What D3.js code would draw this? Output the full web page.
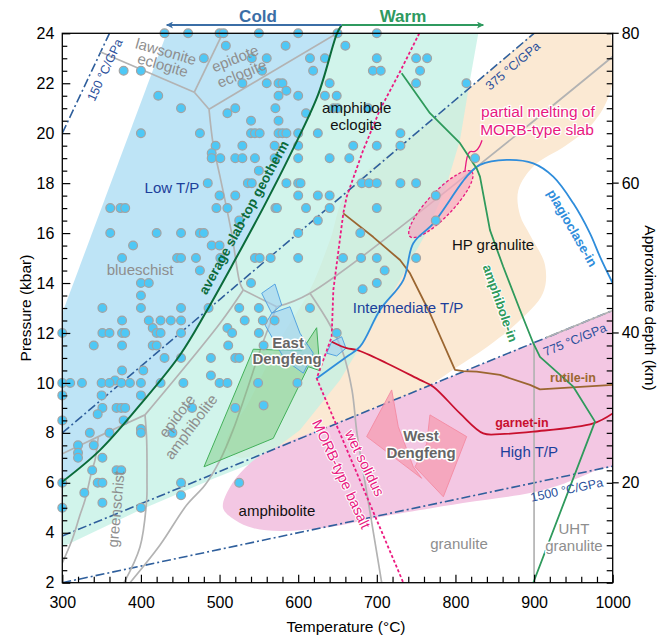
<!DOCTYPE html>
<html>
<head>
<meta charset="utf-8">
<script src="https://cdn.jsdelivr.net/npm/d3@7"></script>
<style>
  body { margin: 0; background: #fff; }
  svg { display: block; font-family: "Liberation Sans", Arial, sans-serif; }
</style>
</head>
<body>
<svg id="chart" width="672" height="639"></svg>
<script>
// ---- data (T in °C, P in kbar) ----
const tempTicks = [300, 400, 500, 600, 700, 800, 900, 1000];
const pressTicks = [2, 4, 6, 8, 10, 12, 14, 16, 18, 20, 22, 24];
const depthTicks = [20, 40, 60, 80];
const gradients = [150, 375, 775, 1500]; // °C/GPa

const geotherm = [[300, 6.04], [347.9, 7.31], [398.8, 9.12], [449.7, 11.12], [482.8, 12.84],
  [519.6, 14.92], [555.3, 17.0], [589.6, 19.12], [625.2, 21.53], [649.4, 24]];
const geothermTop = [655.3, 24.33];

const lowTPEdge = [[432.8, 24], [300, 12.8], [300, 6.04]];
const mintEdge = [[649.4, 24], [829.1, 24], [818.5, 22.13], [805.8, 19.73], [786.7, 17.72], [761.3, 15.92],
  [729.5, 14.12], [691.3, 12.12], [653.2, 10.12], [602.3, 8.11], [551.5, 6.91], [494.2, 6.19],
  [458.6, 5.71], [398.8, 4.91], [300, 3.43]];
const peachArea = [[661.7, 17.65], [754.9, 20.13], [850, 22.67], [880, 23.47], [922.5, 24.6], [985, 24.6],
  [1002, 23.0], [994, 21.4], [972, 20.3], [940, 19.5], [900, 18.7], [880, 17.72], [882.1, 16.72], [894.8, 15.92],
  [913.9, 14.72], [911.4, 13.6], [878.3, 12.4], [840.2, 11.44], [802, 10.64], [767.6, 9.92],
  [700, 9.03], [557.8, 7.2], [521.8, 7.03], [508.2, 7.51], [538.7, 9.32], [576.9, 11.72],
  [615, 13.72], [640.5, 15.72]];
const pinkArea = [[504.4, 4.99], [513.3, 5.83], [532.4, 6.59], [557.8, 7.2], [700, 9.03], [850, 10.97],
  [960, 12.39], [1000, 12.9], [1012, 13.06], [1012, 6.9], [980, 6.51], [932.9, 5.91], [894.8, 5.59],
  [809.6, 5.19], [704, 4.63], [640.5, 4.23], [576.9, 4.07], [542.5, 4.19], [519.6, 4.51]];

const faciesLines = [
  [[348.7, 23.25], [467.9, 21.64]],
  [[467.9, 21.64], [504, 24]],
  [[467.9, 21.64], [486.6, 20.96]],
  [[486.6, 20.96], [649.4, 24]],
  [[486.6, 20.96], [492, 19.53], [500.6, 18.26], [515.4, 15.99], [526, 13.99], [530.2, 13.72]],
  [[530.2, 13.72], [500.6, 12.39], [405.2, 8.72]],
  [[405.2, 8.72], [345.8, 7.85], [300, 7.16]],
  [[345.8, 7.85], [341.6, 6.91], [337.8, 6.51], [328.9, 5.31], [322.5, 4.71], [312.3, 3.71], [300, 2.79]],
  [[405.2, 8.72], [407.3, 7.71], [407.7, 6.11], [407.3, 5.31], [398.8, 3.43], [378.5, 2.0]],
  [[530.2, 13.72], [572.7, 13.05]],
  [[572.7, 13.05], [615, 13.59], [1000, 23.07]],
  [[572.7, 13.05], [554, 11.52], [534.9, 9.72], [517.1, 8.11], [500.6, 6.91], [481.5, 5.91],
    [458.2, 5.11], [424.3, 3.51], [386.1, 2.0]],
  [[615, 13.59], [640.5, 12.32], [657, 11.2], [668.4, 9.72], [674.8, 7.98], [688.8, 5.31], [706.2, 2]],
  [[900, 11.61], [900, 2]],
  [[915, 11.81], [1000, 12.9]]
];

const wetSolidus = [[754, 24], [729.5, 22.46], [704, 20.94], [682.8, 19.33], [661.7, 17.46], [657.4, 16.8],
  [644.7, 13.72], [642.6, 11.84], [623.5, 10.18], [733.7, 2.0]];
const rutileIn = [[657.4, 16.79], [695.5, 15.84], [729.5, 14.92], [742.2, 14.39], [767.6, 12.79],
  [799.4, 10.52], [810, 10.47], [827, 10.45], [856.7, 10.32], [894.8, 9.92], [907.5, 9.74], [1000, 9.92]];
const garnetIn = [[642.6, 11.65], [661.7, 11.39], [674.4, 11.32], [712.6, 10.79], [754.9, 10.12],
  [771.8, 9.85], [805.8, 8.78], [835.4, 7.98], [856.7, 7.95], [899, 8.05], [975.3, 8.38], [1000, 8.78]];
const plagioclaseIn = [[623.5, 10.18], [661.7, 11.05], [678.6, 11.45], [704, 12.92], [733.7, 14.12],
  [746.4, 15.59], [771.8, 16.39], [814.3, 18.26], [831.2, 18.73], [865.2, 18.93], [899, 18.79],
  [924.4, 18.26], [949.9, 17.19], [971.1, 15.99], [983.9, 15.05], [1000, 13.99]];
const amphiboleIn = [[731.6, 22.4], [767.6, 20.8], [805.8, 19.6], [827, 18.59], [831.2, 18.26],
  [843.9, 16.12], [860.8, 14.65], [882.1, 12.92], [899, 11.59], [907.5, 11.04], [949.9, 9.85],
  [977.5, 8.45], [899, 2.0]];

const eastGreen = [[542.9, 11.35], [604.5, 11.29], [623.5, 12.21], [627.7, 10.49], [612.9, 10.65],
  [568.3, 7.78], [480.2, 6.64]];
const eastBlue = [
  [[553.6, 13.59], [570.5, 13.96], [579, 13.12], [566.3, 12.79]],
  [[566.3, 12.79], [589.6, 13.05], [602.3, 11.99], [619.2, 11.19], [606.5, 10.39], [583.2, 10.92], [557.8, 12.32]],
  [[642.6, 11.65], [655.3, 11.85], [660.8, 11.39], [649, 11.08], [636.3, 11.19]]
];
const westPink = [
  [[687.1, 7.85], [718.9, 9.72], [727.3, 8.25], [746.4, 6.64], [757.1, 6.18]],
  [[767.6, 8.72], [814.3, 7.85], [784.6, 5.44], [748.6, 6.64], [763.4, 7.56]]
];
const meltEllipse = [[742.2, 15.86], [820.7, 18.46]];
const meltCallout = [[812.1, 18.49], [814.3, 19.06], [818.5, 19.33], [824.9, 19.2], [831.2, 19.48], [833.8, 19.72]];

// sample P-T points, grouped by pressure row: [P, [T, ...]]
const samples = [
  [24, [430, 460, 500, 505, 550, 600, 650, 700]],
  [23.5, [508, 584, 660]],
  [23, [480, 541, 560, 615, 634, 700, 750, 764]],
  [22.5, [378, 400, 554, 619, 695, 705, 755]],
  [22, [529, 560, 575, 580, 640, 750, 814]],
  [21.7, [585]],
  [21.5, [422, 575, 600, 634, 649]],
  [21, [451, 520, 571, 645, 650, 689]],
  [20.8, [510, 610]],
  [20.5, [540, 575]],
  [20, [400, 475, 540, 545, 551, 575, 580, 585, 600, 625, 730]],
  [19.5, [495, 529, 570, 600, 670, 700, 730]],
  [19.2, [490]],
  [19, [490, 501, 520, 529, 545, 570, 600, 640, 665, 825]],
  [18.5, [550]],
  [18, [485, 536, 541, 585, 600, 603, 681, 690, 700, 730, 750]],
  [17.5, [500, 520, 600, 625, 640, 775]],
  [17, [361, 374, 380, 496, 510, 571, 573, 610, 640, 700]],
  [16.5, [525, 625, 775]],
  [16, [361, 420, 451, 475, 480, 600, 679]],
  [15.5, [390, 490, 500]],
  [15, [376, 446, 451, 470, 501, 545, 551, 565, 600, 657, 680, 700, 750]],
  [14.5, [475, 710]],
  [14, [400, 410, 540, 700]],
  [13.75, [682]],
  [13.5, [400]],
  [13, [351, 400, 451, 486, 525, 550, 615]],
  [12.5, [376, 410, 425, 438, 451, 532, 555, 570]],
  [12.2, [415, 510]],
  [12, [300, 351, 360, 376, 380, 420, 425, 451, 516, 550, 649]],
  [11.5, [340, 376, 415, 420, 511, 556]],
  [11, [430, 451, 489, 520, 525]],
  [10.5, [376, 403]],
  [10.3, [489]],
  [10.1, [367]],
  [10, [300, 310, 325, 350, 360, 375, 386, 400, 425, 454, 500, 510, 549, 599]],
  [9.5, [300, 350, 400]],
  [9.1, [556]],
  [9, [351, 369, 375, 380, 465, 520]],
  [8.75, [345]],
  [8.5, [300, 378]],
  [8.15, [400]],
  [8, [335, 360, 400, 440]],
  [7.5, [320, 340]],
  [7.2, [320]],
  [7, [320, 351]],
  [6.5, [338, 369, 375]],
  [6, [300, 345, 351, 451, 525]],
  [5.6, [328]],
  [5.5, [451]],
  [5.2, [351]],
  [5, [300, 400]]
];

// ---- layout ----
const svg = d3.select("#chart");
const x = d3.scaleLinear().domain([300, 1000]).range([62.3, 612.7]);
const y = d3.scaleLinear().domain([2, 24]).range([582.7, 33.3]);
const depth = d3.scaleLinear().domain([2 * 10 / 3, 24 * 10 / 3]).range([582.7, 33.3]);

const defs = svg.append("defs");
defs.append("clipPath").attr("id", "plotClip").append("rect")
  .attr("x", x(300)).attr("y", y(24))
  .attr("width", x(1000) - x(300)).attr("height", y(2) - y(24));

["cold", "warm"].forEach((k, i) => {
  defs.append("marker").attr("id", "arrow-" + k)
    .attr("viewBox", "0 0 10 10").attr("refX", 9).attr("refY", 5)
    .attr("markerWidth", 9).attr("markerHeight", 7).attr("markerUnits", "userSpaceOnUse")
    .attr("orient", "auto")
    .append("path").attr("d", "M0,0 L10,5 L0,10 L2.5,5 Z")
    .attr("fill", i === 0 ? "#3b6ea6" : "#2f9a5f");
});

const pt = d => [x(d[0]), y(d[1])];
const straight = d3.line().x(d => x(d[0])).y(d => y(d[1]));
const smooth = d3.line().x(d => x(d[0])).y(d => y(d[1])).curve(d3.curveCatmullRom.alpha(0.5));
const blob = d3.line().x(d => x(d[0])).y(d => y(d[1])).curve(d3.curveCatmullRomClosed.alpha(0.5));

const plot = svg.append("g").attr("clip-path", "url(#plotClip)");

// fields
plot.append("path").attr("d", straight(lowTPEdge.concat(geotherm)) + "Z").attr("fill", "#bee4f6");
plot.append("path").attr("d", blob(peachArea)).attr("fill", "#fbe9d3");
plot.append("path").attr("d", straight(mintEdge.concat(geotherm)) + "Z")
  .attr("fill", "#c2f0e4").attr("fill-opacity", 0.75);
plot.append("path").attr("d", blob(pinkArea)).attr("fill", "#f3c7e3");

// thermal gradients (dash-dot)
plot.selectAll(".grad").data(gradients).join("line")
  .attr("x1", x(300)).attr("y1", g => y(300 * 10 / g))
  .attr("x2", x(1000)).attr("y2", g => y(1000 * 10 / g))
  .attr("stroke", "#2f5f9c").attr("stroke-width", 1.6)
  .attr("stroke-dasharray", "9,3,2,3");

// facies boundaries
plot.selectAll(".facies").data(faciesLines).join("path")
  .attr("d", smooth).attr("fill", "none")
  .attr("stroke", "#b3b3b3").attr("stroke-width", 1.7);

// samples
const dots = samples.flatMap(([p, ts]) => ts.map(t => [t, p]));
svg.append("g").selectAll("circle").data(dots).join("circle")
  .attr("cx", d => x(d[0])).attr("cy", d => y(d[1])).attr("r", 4.4)
  .attr("fill", "#4ec8f6").attr("stroke", "#a3a3a3").attr("stroke-width", 1.2);

// Dengfeng fields
plot.append("path").attr("d", straight(eastGreen) + "Z")
  .attr("fill", "#6cc46c").attr("fill-opacity", 0.4).attr("stroke", "#43b05a").attr("stroke-width", 1);
plot.selectAll(".eb").data(eastBlue).join("path")
  .attr("d", d => straight(d) + "Z")
  .attr("fill", "#9fd0f2").attr("fill-opacity", 0.6).attr("stroke", "#4a9ce0").attr("stroke-width", 0.9);
plot.selectAll(".wp").data(westPink).join("path")
  .attr("d", d => straight(d) + "Z")
  .attr("fill", "#f59aae").attr("fill-opacity", 0.7).attr("stroke", "#f48aa2").attr("stroke-width", 0.9);

// partial melting ellipse
{
  const a = pt(meltEllipse[0]), b = pt(meltEllipse[1]);
  const cx = (a[0] + b[0]) / 2, cy = (a[1] + b[1]) / 2;
  const rx = Math.hypot(b[0] - a[0], b[1] - a[1]) / 2;
  const ang = Math.atan2(b[1] - a[1], b[0] - a[0]) * 180 / Math.PI;
  plot.append("ellipse").attr("cx", cx).attr("cy", cy).attr("rx", rx).attr("ry", 12.5)
    .attr("transform", `rotate(${ang},${cx},${cy})`)
    .attr("fill", "#f6a9c0").attr("fill-opacity", 0.7)
    .attr("stroke", "#e8197f").attr("stroke-width", 1.3).attr("stroke-dasharray", "3,2");
}
plot.append("path").attr("d", d3.line().x(d => x(d[0])).y(d => y(d[1])).curve(d3.curveBasis)(meltCallout))
  .attr("fill", "none").attr("stroke", "#e8197f").attr("stroke-width", 1.3);

// reaction curves: [points, colour, dash, smoothed?]
const curves = [
  [rutileIn, "#9b6631", null, false],
  [garnetIn, "#c8102e", null, true],
  [plagioclaseIn, "#2f8ddb", null, true],
  [amphiboleIn, "#2f9a5c", null, false],
  [wetSolidus, "#ec1a80", "3,2.2", false]
];
curves.forEach(([d, c, dash, s]) => {
  plot.append("path").attr("d", (s ? smooth : straight)(d)).attr("fill", "none")
    .attr("stroke", c).attr("stroke-width", 1.8).attr("stroke-dasharray", dash)
    .attr("stroke-linejoin", "round");
});

// average slab-top geotherm (runs up to the Cold/Warm arrows)
svg.append("path").attr("d", smooth(geotherm.concat([geothermTop])))
  .attr("fill", "none").attr("stroke", "#0b6b3a").attr("stroke-width", 2);

// Cold / Warm arrows
const arrowY = y(geothermTop[1]);
svg.append("line").attr("x1", x(geothermTop[0])).attr("x2", x(432.8)).attr("y1", arrowY).attr("y2", arrowY)
  .attr("stroke", "#3b6ea6").attr("stroke-width", 2).attr("marker-end", "url(#arrow-cold)");
svg.append("line").attr("x1", x(geothermTop[0])).attr("x2", x(835.4)).attr("y1", arrowY).attr("y2", arrowY)
  .attr("stroke", "#2f9a5f").attr("stroke-width", 2).attr("marker-end", "url(#arrow-warm)");
svg.append("text").attr("x", 258).attr("y", 22).attr("text-anchor", "middle")
  .attr("font-size", 17).attr("font-weight", "bold").attr("fill", "#3b6ea6").text("Cold");
svg.append("text").attr("x", 403).attr("y", 22).attr("text-anchor", "middle")
  .attr("font-size", 17).attr("font-weight", "bold").attr("fill", "#2f9a5f").text("Warm");

// ---- labels ----
const labels = [
  ["lawsonite", 432, 23.28, 16, "gray"], ["eclogite", 428, 22.74, 16, "gray"],
  ["epidote", 519.6, 23.0, -22, "gray"], ["eclogite", 528.2, 22.4, -22, "gray"],
  ["amphibole", 674.4, 21.02, 0, "black"], ["eclogite", 673.5, 20.34, 0, "black"],
  ["Low T/P", 439.5, 17.84, 0, "blue"],
  ["blueschist", 398.8, 14.56, 0, "gray"],
  ["average slab-top geotherm", 531, 16.62, -61.4, "geo"],
  ["epidote", 445.5, 8.68, -53, "gray"], ["amphibolite", 463.3, 8.25, -53, "gray"],
  ["greenschist", 367.9, 4.95, -85, "gray"],
  ["amphibolite", 573, 4.91, 0, "black"],
  ["East", 587.1, 11.63, 0, "dengfeng"], ["Dengfeng", 585.8, 10.99, 0, "dengfeng"],
  ["West", 756.2, 7.91, 0, "dengfeng"], ["Dengfeng", 756.2, 7.23, 0, "dengfeng"],
  ["Intermediate T/P", 739.7, 13.03, 0, "blue"],
  ["HP granulite", 847.8, 15.56, 0, "black"],
  ["High T/P", 893.5, 7.27, 0, "blue"],
  ["granulite", 804.5, 3.55, 0, "gray"],
  ["UHT", 950.7, 4.19, 0, "grayhalo"], ["granulite", 950.7, 3.47, 0, "grayhalo"],
  ["partial melting of", 904.9, 20.85, 0, "melt"], ["MORB-type slab", 903.7, 20.13, 0, "melt"],
  ["plagioclase-in", 948.5, 16.2, 60, "plag"],
  ["amphibole-in", 856.8, 13.19, 70.6, "amph"],
  ["rutile-in", 949.5, 10.19, 0, "rutile"],
  ["garnet-in", 884.6, 8.39, 0, "garnet"],
  ["wet solidus", 684.5, 6.79, 64, "solidus"], ["MORB-type basalt", 655, 6.35, 65, "solidus"],
  ["150 °C/GPa", 354.4, 22.53, -64.7, "grad"],
  ["375 °C/GPa", 873.2, 22.69, -40.3, "grad"],
  ["775 °C/GPa", 951.9, 11.72, -22.3, "grad"],
  ["1500 °C/GPa", 941.7, 5.71, -12, "grad"]
];
const styles = {
  gray: { fill: "#8e8e8e", size: 15 },
  grayhalo: { fill: "#8e8e8e", size: 15, halo: 3 },
  black: { fill: "#111", size: 15 },
  blue: { fill: "#1c3f9b", size: 15 },
  geo: { fill: "#0b6b3a", size: 13.5, weight: "bold" },
  dengfeng: { fill: "#666", size: 15, weight: "bold", halo: 3 },
  melt: { fill: "#e8197f", size: 15.5, halo: 2.5 },
  plag: { fill: "#2f8ddb", size: 13, weight: "bold", halo: 2 },
  amph: { fill: "#2f9a5c", size: 13, weight: "bold", halo: 2 },
  rutile: { fill: "#9b6631", size: 12.5, weight: "bold" },
  garnet: { fill: "#c8102e", size: 12.5, weight: "bold" },
  solidus: { fill: "#e8197f", size: 14.5, halo: 2 },
  grad: { fill: "#2a4f9b", size: 12.5 }
};
svg.append("g").selectAll("text").data(labels).join("text")
  .attr("transform", d => `translate(${x(d[1])},${y(d[2])}) rotate(${d[3]})`)
  .attr("text-anchor", "middle").attr("dominant-baseline", "central")
  .attr("font-size", d => styles[d[4]].size)
  .attr("font-weight", d => styles[d[4]].weight || "normal")
  .attr("fill", d => styles[d[4]].fill)
  .attr("stroke", d => styles[d[4]].halo ? "#fff" : null)
  .attr("stroke-width", d => styles[d[4]].halo || null)
  .attr("stroke-linejoin", "round")
  .attr("paint-order", "stroke")
  .text(d => d[0]);

// ---- axes ----
const frame = svg.append("g");
frame.append("rect").attr("x", x(300)).attr("y", y(24))
  .attr("width", x(1000) - x(300)).attr("height", y(2) - y(24))
  .attr("fill", "none").attr("stroke", "#000").attr("stroke-width", 1.3);

const axisBottom = d3.axisBottom(x).tickValues(d3.range(300, 1001, 20))
  .tickSize(-6).tickFormat(d => tempTicks.includes(d) ? d : "");
const gB = svg.append("g").attr("transform", `translate(0,${y(2)})`).call(axisBottom);
gB.selectAll("line").filter(d => tempTicks.includes(d)).attr("y2", -8);

const axisLeft = d3.axisLeft(y).tickValues(d3.range(2, 24.01, 0.5))
  .tickSize(-5).tickFormat(d => pressTicks.includes(d) ? d : "");
const gL = svg.append("g").attr("transform", `translate(${x(300)},0)`).call(axisLeft);
gL.selectAll("line").filter(d => pressTicks.includes(d)).attr("x2", 8);

const axisRight = d3.axisRight(y).tickValues(d3.range(2, 24.01, 0.5)).tickSize(-6).tickFormat("");
const gR = svg.append("g").attr("transform", `translate(${x(1000)},0)`).call(axisRight);
depthTicks.forEach(k => {
  gR.append("line").attr("x1", 0).attr("x2", 6).attr("y1", depth(k)).attr("y2", depth(k))
    .attr("stroke", "#000").attr("stroke-width", 1.2);
  gR.append("text").attr("x", 9).attr("y", depth(k)).attr("dominant-baseline", "central")
    .attr("font-size", 16).attr("fill", "#000").text(k);
});

[gB, gL, gR].forEach(g => {
  g.select(".domain").remove();
  g.selectAll("line").attr("stroke", "#000").attr("stroke-width", 1.2);
  g.selectAll(".tick text").attr("font-size", 16).attr("fill", "#000")
    .attr("font-family", "'Liberation Sans', Arial, sans-serif");
});
gB.selectAll(".tick text").attr("dy", "1.05em").attr("y", 9);
gL.selectAll(".tick text").attr("x", -8);

svg.append("text").attr("x", 346).attr("y", 632).attr("text-anchor", "middle")
  .attr("font-size", 15.5).text("Temperature (°C)");
svg.append("text").attr("transform", `translate(25,${y(13)}) rotate(-90)`)
  .attr("text-anchor", "middle").attr("dominant-baseline", "central")
  .attr("font-size", 15.5).text("Pressure (kbar)");
svg.append("text").attr("transform", `translate(650,${y(13)}) rotate(90)`)
  .attr("text-anchor", "middle").attr("dominant-baseline", "central")
  .attr("font-size", 15.5).text("Approximate depth (km)");
</script>
</body>
</html>
